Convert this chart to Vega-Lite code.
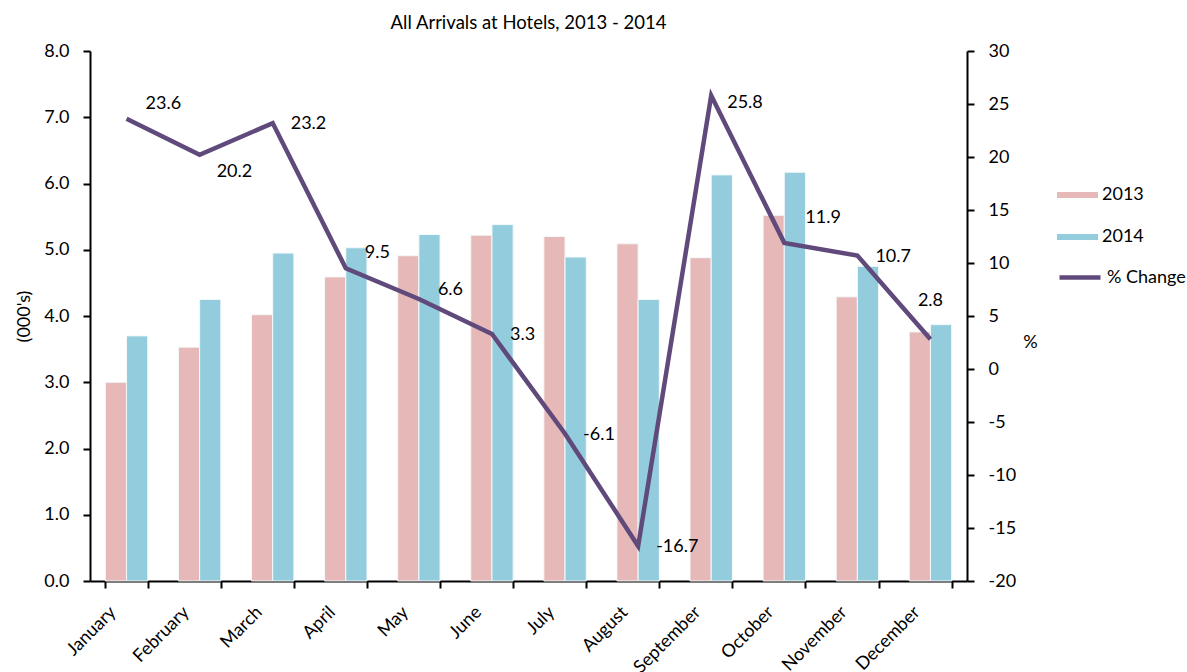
{
  "$schema": "https://vega.github.io/schema/vega-lite/v6.json",
  "width": 877,
  "height": 530,
  "autosize": {"type": "none"},
  "padding": {"left": 90, "top": 51, "right": 220, "bottom": 91},
  "background": "white",
  "title": {"text": "All Arrivals at Hotels, 2013 - 2014", "fontSize": 18.5, "font": "Lato", "fontWeight": "normal", "color": "black", "anchor": "middle", "offset": 10},
  "config": {
    "font": "Lato",
    "view": {"stroke": null},
    "axis": {"grid": false, "domainColor": "black", "tickColor": "black", "labelColor": "black", "labelFont": "Lato", "labelFontSize": 18, "titleFont": "Lato", "titleFontSize": 18, "titleFontWeight": "normal", "titleColor": "black", "domainWidth": 2, "tickWidth": 2, "tickSize": 7}
  },
  "datasets": {
    "bars": [
      {"month": "January", "year": "2013", "value": 3.0},
      {"month": "January", "year": "2014", "value": 3.70},
      {"month": "February", "year": "2013", "value": 3.53},
      {"month": "February", "year": "2014", "value": 4.25},
      {"month": "March", "year": "2013", "value": 4.02},
      {"month": "March", "year": "2014", "value": 4.95},
      {"month": "April", "year": "2013", "value": 4.59},
      {"month": "April", "year": "2014", "value": 5.03},
      {"month": "May", "year": "2013", "value": 4.91},
      {"month": "May", "year": "2014", "value": 5.23},
      {"month": "June", "year": "2013", "value": 5.22},
      {"month": "June", "year": "2014", "value": 5.38},
      {"month": "July", "year": "2013", "value": 5.20},
      {"month": "July", "year": "2014", "value": 4.89},
      {"month": "August", "year": "2013", "value": 5.09},
      {"month": "August", "year": "2014", "value": 4.25},
      {"month": "September", "year": "2013", "value": 4.88},
      {"month": "September", "year": "2014", "value": 6.13},
      {"month": "October", "year": "2013", "value": 5.52},
      {"month": "October", "year": "2014", "value": 6.17},
      {"month": "November", "year": "2013", "value": 4.29},
      {"month": "November", "year": "2014", "value": 4.75},
      {"month": "December", "year": "2013", "value": 3.76},
      {"month": "December", "year": "2014", "value": 3.87}
    ],
    "pct": [
      {"month": "January", "pct": 23.6},
      {"month": "February", "pct": 20.2},
      {"month": "March", "pct": 23.2},
      {"month": "April", "pct": 9.5},
      {"month": "May", "pct": 6.6},
      {"month": "June", "pct": 3.3},
      {"month": "July", "pct": -6.1},
      {"month": "August", "pct": -16.7},
      {"month": "September", "pct": 25.8},
      {"month": "October", "pct": 11.9},
      {"month": "November", "pct": 10.7},
      {"month": "December", "pct": 2.8}
    ]
  },
  "encoding": {
    "x": {
      "field": "month", "type": "nominal",
      "sort": ["January", "February", "March", "April", "May", "June", "July", "August", "September", "October", "November", "December"],
      "scale": {"paddingInner": 0.42, "paddingOuter": 0.21},
      "axis": {"title": null, "labelAngle": -45, "tickBand": "extent", "labelPadding": 15, "labelOffset": -20}
    }
  },
  "layer": [
    {
      "data": {"name": "bars"},
      "mark": {"type": "bar", "stroke": "#F4F8FA", "strokeWidth": 1},
      "encoding": {
        "xOffset": {"field": "year", "type": "nominal"},
        "y": {
          "field": "value", "type": "quantitative",
          "scale": {"domain": [0, 8]},
          "axis": {"title": "(000's)", "format": ".1f", "values": [0, 1, 2, 3, 4, 5, 6, 7, 8], "labelPadding": 14, "titlePadding": 10}
        },
        "color": {
          "field": "year", "type": "nominal",
          "scale": {"domain": ["2013", "2014"], "range": ["#E6B9B8", "#93CDDD"]},
          "legend": {"title": null, "orient": "none", "legendX": 967, "legendY": 123.5, "symbolType": "M-1,-0.15H1V0.15H-1Z", "symbolSize": 1681, "symbolStrokeWidth": 0, "symbolOpacity": 1, "labelFontSize": 18, "labelFont": "Lato", "labelColor": "black", "labelOffset": 4, "rowPadding": 12, "padding": 0}
        }
      }
    },
    {
      "data": {"name": "pct"},
      "encoding": {
        "y": {
          "field": "pct", "type": "quantitative",
          "scale": {"domain": [-20, 30]},
          "axis": {"orient": "right", "title": "%", "titleAngle": 0, "titleX": 63, "titleY": 291, "titleAlign": "center", "titleBaseline": "middle", "values": [-20, -15, -10, -5, 0, 5, 10, 15, 20, 25, 30], "labelExpr": "'' + datum.value", "labelPadding": 14}
        }
      },
      "layer": [
        {
          "mark": {"type": "line", "strokeWidth": 4.5},
          "encoding": {
            "stroke": {
              "datum": "% Change", "type": "nominal",
              "scale": {"domain": ["% Change"], "range": ["#604A7B"]},
              "legend": {"title": null, "orient": "none", "legendX": 967, "legendY": 203.5, "symbolType": "stroke", "symbolSize": 1681, "symbolStrokeWidth": 4.5, "labelFontSize": 18, "labelFont": "Lato", "labelColor": "black", "labelOffset": 4, "padding": 0}
            }
          }
        },
        {
          "transform": [{"filter": {"field": "month", "oneOf": ["March", "June", "July", "August", "November"]}}],
          "mark": {"type": "text", "align": "left", "baseline": "middle", "dx": 18, "dy": 1, "fontSize": 18, "color": "black"},
          "encoding": {"text": {"field": "pct", "type": "nominal"}}
        },
        {
          "transform": [{"filter": {"field": "month", "oneOf": ["January", "April"]}}],
          "mark": {"type": "text", "align": "left", "baseline": "middle", "dx": 19, "dy": -15, "fontSize": 18, "color": "black"},
          "encoding": {"text": {"field": "pct", "type": "nominal"}}
        },
        {
          "transform": [{"filter": {"field": "month", "oneOf": ["May"]}}],
          "mark": {"type": "text", "align": "left", "baseline": "middle", "dx": 19, "dy": -9, "fontSize": 18, "color": "black"},
          "encoding": {"text": {"field": "pct", "type": "nominal"}}
        },
        {
          "transform": [{"filter": {"field": "month", "oneOf": ["February"]}}],
          "mark": {"type": "text", "align": "left", "baseline": "middle", "dx": 17, "dy": 17, "fontSize": 18, "color": "black"},
          "encoding": {"text": {"field": "pct", "type": "nominal"}}
        },
        {
          "transform": [{"filter": {"field": "month", "oneOf": ["September"]}}],
          "mark": {"type": "text", "align": "left", "baseline": "middle", "dx": 16, "dy": 7, "fontSize": 18, "color": "black"},
          "encoding": {"text": {"field": "pct", "type": "nominal"}}
        },
        {
          "transform": [{"filter": {"field": "month", "oneOf": ["October"]}}],
          "mark": {"type": "text", "align": "left", "baseline": "middle", "dx": 21, "dy": -25, "fontSize": 18, "color": "black"},
          "encoding": {"text": {"field": "pct", "type": "nominal"}}
        },
        {
          "transform": [{"filter": {"field": "month", "oneOf": ["December"]}}],
          "mark": {"type": "text", "align": "center", "baseline": "middle", "dx": 0, "dy": -38, "fontSize": 18, "color": "black"},
          "encoding": {"text": {"field": "pct", "type": "nominal"}}
        }
      ]
    }
  ],
  "resolve": {"scale": {"y": "independent"}}
}
